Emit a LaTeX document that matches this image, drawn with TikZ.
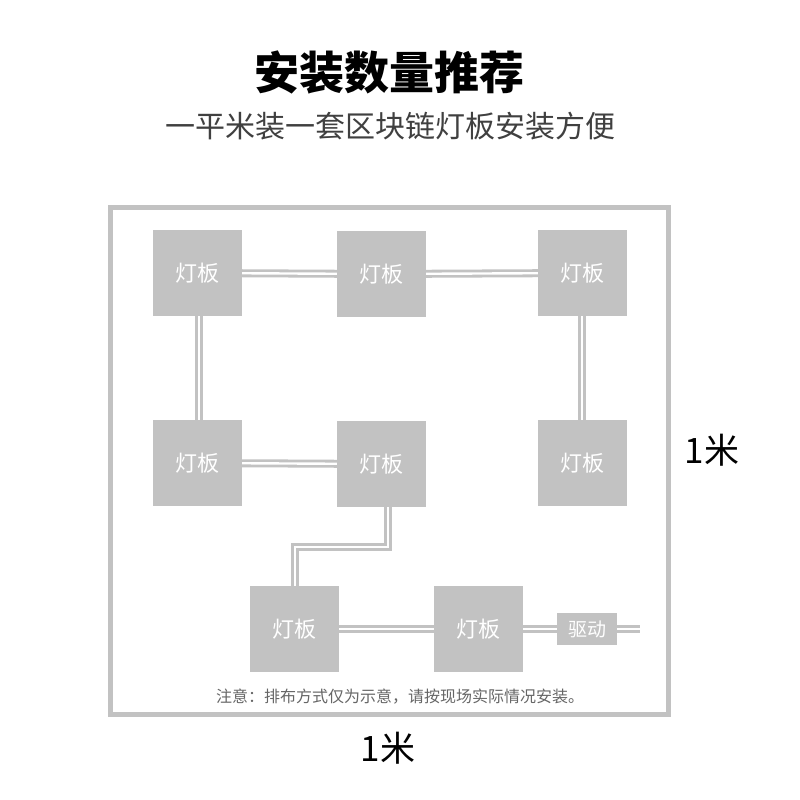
\documentclass[tikz,border=0pt]{standalone}
\usepackage{fontspec}
\setmainfont{Noto Sans CJK SC}
\begin{document}
\begin{tikzpicture}[x=1pt,y=-1pt,
  panel/.style={fill=boxg,minimum width=89pt,minimum height=86pt,inner sep=0pt,text=white,font=\fontsize{22}{22}\selectfont},
  wire/.style={draw=boxg,line width=8pt,postaction={draw=white,line width=2.4pt}}]
\definecolor{boxg}{HTML}{C2C2C2}
\useasboundingbox (0,0) rectangle (800,800);
\fill[white] (0,0) rectangle (800,800);
\node (t) at (389,72) {\fontsize{45}{45}\selectfont\bfseries 安装数量推荐};
\node[text=black!75] (s) at (390,126) {\fontsize{30}{30}\selectfont 一平米装一套区块链灯板安装方便};
\draw[boxg,line width=5pt] (110,207) rectangle (668,714);
\coordinate (A) at (197,273); \coordinate (B) at (381,274); \coordinate (C) at (582,273);
\coordinate (D) at (197,463); \coordinate (E) at (381,464); \coordinate (F) at (582,463);
\coordinate (G) at (294,629); \coordinate (H) at (478,629); \coordinate (R) at (587,629);
\coordinate (k1) at (388,547); \coordinate (k2) at (295,547); \coordinate (rend) at (640,629);
\draw[wire] (A) -- (B); \draw[wire] (B) -- (C);
\draw[wire] (199,273) -- (199,463); \draw[wire] (C) -- (F);
\draw[wire] (D) -- (E);
\draw[wire,line join=miter] (388,464) -- (k1) -- (k2) -- (295,629);
\draw[wire] (G) -- (H); \draw[wire] (H) -- (rend);
\node[panel] (a) at (A) {灯板}; \node[panel] (b) at (B) {灯板}; \node[panel] (c) at (C) {灯板};
\node[panel] (d) at (D) {灯板}; \node[panel] (e) at (E) {灯板}; \node[panel] (f) at (F) {灯板};
\node[panel] (g) at (G) {灯板}; \node[panel] (h) at (H) {灯板};
\node[panel,minimum width=60pt,minimum height=32pt,font=\fontsize{19}{19}\selectfont] (r) at (R) {驱动};
\node[text=black!60] (n) at (400,697) {\fontsize{16}{16}\selectfont 注意：排布方式仅为示意，请按现场实际情况安装。};
\node (m1) at (712,450) {\fontsize{35}{35}\selectfont 1米};
\node (m2) at (388,748) {\fontsize{35}{35}\selectfont 1米};
\end{tikzpicture}
\end{document}
